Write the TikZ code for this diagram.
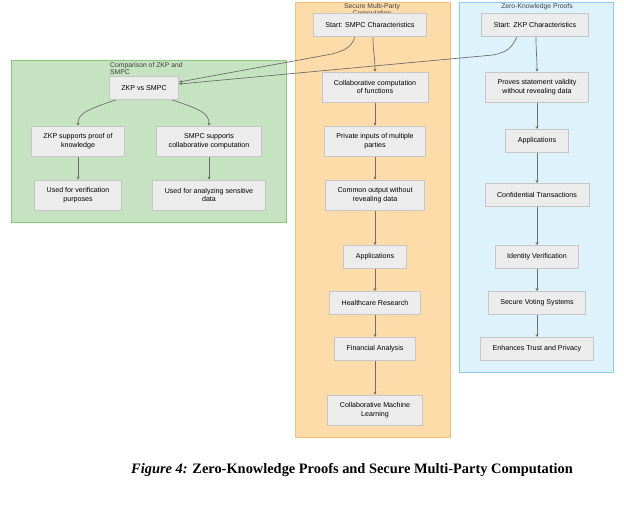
\documentclass[tikz,border=0pt]{standalone}
\usepackage{fontspec}
\setmainfont{Liberation Serif}
\newfontfamily\boxfont{Liberation Sans}
\usetikzlibrary{arrows.meta,positioning}

\definecolor{boxfill}{RGB}{236,236,236}
\definecolor{boxline}{RGB}{198,198,198}
\definecolor{cmpfill}{RGB}{197,227,192}
\definecolor{cmpline}{RGB}{140,196,130}
\definecolor{mpcfill}{RGB}{254,220,170}
\definecolor{mpcline}{RGB}{245,192,120}
\definecolor{zkpfill}{RGB}{222,242,252}
\definecolor{zkpline}{RGB}{140,200,240}
\definecolor{flow}{RGB}{110,110,110}

\pgfdeclarelayer{bg}
\pgfdeclarelayer{edges}
\pgfsetlayers{bg,edges,main}

\tikzset{
  stepbox/.style={draw=boxline, fill=boxfill, line width=0.8pt,
    font=\boxfont\fontsize{7.1}{8.6}\selectfont, align=center,
    inner xsep=12pt, minimum height=23pt},
  tallbox/.style={stepbox, minimum height=30pt},
  cluster/.style={line width=0.8pt},
  clustertitle/.style={font=\boxfont\fontsize{6.8}{7.6}\selectfont, text=black!75},
  flowline/.style={draw=flow, line width=0.7pt, -{Stealth[length=3pt,width=3pt]}}
}

\begin{document}
\begin{tikzpicture}[x=1pt, y=-1pt]
\useasboundingbox (0,0) rectangle (624,529);

% groups
\begin{pgfonlayer}{bg}
  \fill[white] (0,0) rectangle (624,529);
  \draw[cluster, draw=cmpline, fill=cmpfill] (11,60) rectangle (286,222);
  \draw[cluster, draw=mpcline, fill=mpcfill] (295,2) rectangle (450,437);
  \draw[cluster, draw=zkpline, fill=zkpfill] (459,2) rectangle (613,372);
  \node[clustertitle, anchor=north west, align=left, inner sep=0pt] (cmptitle) at (110,62) {Comparison of ZKP and\\SMPC};
  \node[clustertitle, anchor=north, align=center, inner sep=0pt] (mpctitle) at (372,3) {Secure Multi-Party\\Computation};
  \node[clustertitle, anchor=north, inner sep=0pt] (zkptitle) at (537,3) {Zero-Knowledge Proofs};
\end{pgfonlayer}

% comparison
\node[stepbox] (vs) at (144,88) {ZKP vs SMPC};
\node[tallbox] (zkpproof) at (78,141) {ZKP supports proof of\\knowledge};
\node[tallbox] (mpccomp) at (209,141) {SMPC supports\\collaborative computation};
\node[tallbox] (verif) at (78,195) {Used for verification\\purposes};
\node[tallbox] (sens) at (209,195) {Used for analyzing sensitive\\data};

% secure multi-party
\node[stepbox] (mpcstart) at (370,25) {Start: SMPC Characteristics};
\node[tallbox] (collab) at (375,87) {Collaborative computation\\of functions};
\node[tallbox] (inputs) at (375,141) {Private inputs of multiple\\parties};
\node[tallbox] (output) at (375,195) {Common output without\\revealing data};
\node[stepbox] (mpcapps) at (375,257) {Applications};
\node[stepbox] (health) at (375,303) {Healthcare Research};
\node[stepbox] (finance) at (375,349) {Financial Analysis};
\node[tallbox] (ml) at (375,410) {Collaborative Machine\\Learning};

% zero-knowledge
\node[stepbox] (zkpstart) at (535,25) {Start: ZKP Characteristics};
\node[tallbox] (proves) at (537,87) {Proves statement validity\\without revealing data};
\node[stepbox] (zkpapps) at (537,141) {Applications};
\node[stepbox] (conf) at (537,195) {Confidential Transactions};
\node[stepbox] (ident) at (537,257) {Identity Verification};
\node[stepbox] (voting) at (537,303) {Secure Voting Systems};
\node[stepbox] (trust) at (537,349) {Enhances Trust and Privacy};

\begin{pgfonlayer}{edges}
  % vertical chains
  \draw[flowline] ([xshift=3pt]mpcstart.south) .. controls +(0,15) and +(0,-15) .. (collab.north);
  \draw[flowline] ([xshift=1pt]zkpstart.south) .. controls +(0,15) and +(0,-15) .. (proves.north);
  \foreach \a/\b in {collab/inputs, inputs/output, output/mpcapps, mpcapps/health,
                     health/finance, finance/ml,
                     proves/zkpapps, zkpapps/conf, conf/ident, ident/voting, voting/trust,
                     zkpproof/verif, mpccomp/sens}
    \draw[flowline] (\a) -- (\b);
  % towards the comparison
  \draw[flowline] ([xshift=-15pt]mpcstart.south) .. controls +(-4,12) and +(10,-3) .. (332,54)
    -- ([yshift=6pt]vs.east);
  \draw[flowline] ([xshift=-18pt]zkpstart.south) .. controls +(-6,12) and +(14,-3) .. (493,55)
    -- ([yshift=4pt]vs.east);
  % comparison split
  \draw[flowline] ([xshift=-28pt]vs.south) .. controls +(-30,10) and +(0,-12) .. (zkpproof.north);
  \draw[flowline] ([xshift=28pt]vs.south) .. controls +(30,10) and +(0,-12) .. (mpccomp.north);
\end{pgfonlayer}

% caption
\node[font=\fontsize{14.4}{16}\selectfont\bfseries] (caption) at (352,470)
  {\textit{Figure 4:} Zero-Knowledge Proofs and Secure Multi-Party Computation};
\end{tikzpicture}
\end{document}
